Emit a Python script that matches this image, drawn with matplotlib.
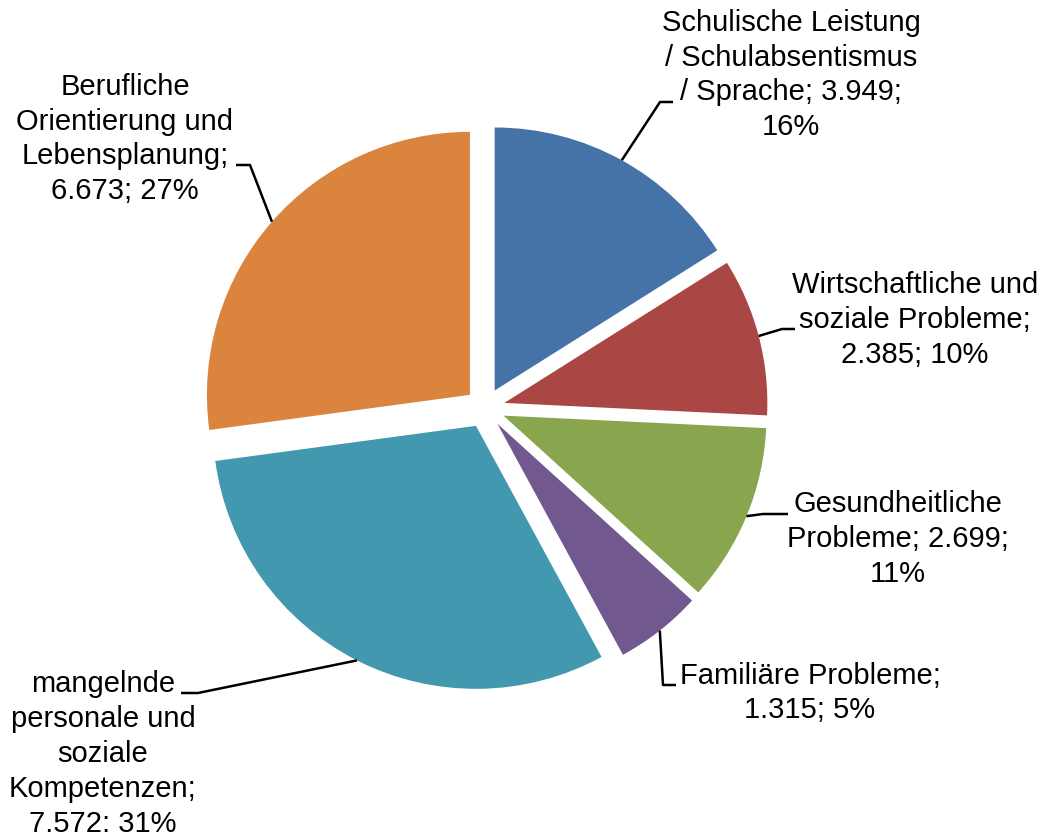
import numpy as np
import matplotlib
matplotlib.use("Agg")
import matplotlib.pyplot as plt

# data
labels = ['Schulische Leistung\n/ Schulabsentismus\n/ Sprache; 3.949;\n16%',
          'Wirtschaftliche und\nsoziale Probleme;\n2.385; 10%',
          'Gesundheitliche\nProbleme; 2.699;\n11%',
          'Familiäre Probleme;\n1.315; 5%',
          'mangelnde\npersonale und\nsoziale\nKompetenzen;\n7.572; 31%',
          'Berufliche\nOrientierung und\nLebensplanung;\n6.673; 27%']
values = [3949, 2385, 2699, 1315, 7572, 6673]
colors = ['#4572A7', '#AA4643', '#89A54E', '#71588F', '#4198AF', '#DB843D']

# layout (pixels): pie centre, radius
W, H = 1043, 832
cx, cy, R = 485, 408, 263
expl = 20 / R

def px(x, y):
    return (x - cx) / R, (cy - y) / R

# label centres and leader elbow / end points in pixels
text_pos = [(791, 75), (915, 320), (898, 539), (810, 693), (103, 754), (125, 139)]
elbows = [[(660, 102), (673, 102)],
          [(782, 329), (795, 329)],
          [(763, 514), (788, 514)],
          [(663, 685), (676, 685)],
          [(198, 693), (181, 693)],
          [(250, 165), (236, 165)]]

plt.rcParams['font.family'] = ['Liberation Sans', 'DejaVu Sans']

fig = plt.figure(figsize=(W / 100, H / 100), dpi=100)
ax = fig.add_axes([0, 0, 1, 1])
wedges, _ = ax.pie(values, colors=colors, startangle=90, counterclock=False,
                   radius=1, explode=[expl] * len(values),
                   wedgeprops=dict(edgecolor='none'))
ax.set_xlim(-cx / R, (W - cx) / R)
ax.set_ylim(-(H - cy) / R, cy / R)
ax.set_aspect('equal')
ax.axis('off')

for w, lab, tp, el in zip(wedges, labels, text_pos, elbows):
    mid = np.deg2rad((w.theta1 + w.theta2) / 2)
    ox, oy = w.center
    ax0 = ox + np.cos(mid)
    ay0 = oy + np.sin(mid)
    pts = [(ax0, ay0)] + [px(*p) for p in el]
    xs, ys = zip(*pts)
    ax.plot(xs, ys, color='black', lw=1.8, solid_capstyle='butt')
    tx, ty = px(*tp)
    ax.text(tx, ty, lab, ha='center', va='center', multialignment='center',
            fontsize=21, linespacing=1.31)

fig.savefig('out.png', dpi=100)
